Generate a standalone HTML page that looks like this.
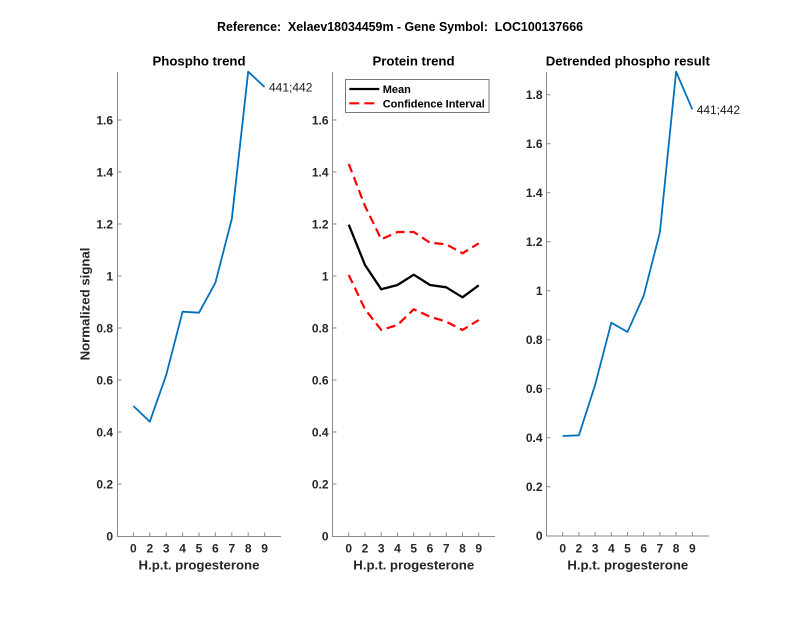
<!DOCTYPE html>
<html>
<head>
<meta charset="utf-8">
<style>
html,body{margin:0;padding:0;background:#fff;}
svg{display:block;}
text{font-family:"Liberation Sans",Arial,sans-serif;}
.t{font-weight:bold;fill:#262626;font-size:12px;}
.ti{font-weight:bold;fill:#000;font-size:13.2px;text-anchor:middle;}
.lab{font-weight:bold;fill:#262626;font-size:13.2px;text-anchor:middle;}
.ax{stroke:#8a8a8a;stroke-width:1;fill:none;}
</style>
</head>
<body>
<svg width="800" height="618" viewBox="0 0 800 618" xmlns="http://www.w3.org/2000/svg">
<rect width="800" height="618" fill="#fff"/>
<text x="400" y="31" class="ti" xml:space="preserve" style="white-space:pre" textLength="366" lengthAdjust="spacingAndGlyphs">Reference:  Xelaev18034459m - Gene Symbol:  LOC100137666</text>

<!-- LEFT PLOT -->
<g>
<text x="199" y="65.5" class="ti">Phospho trend</text>
<path class="ax" d="M117.5,72 V536.5 H281"/>
<g class="ax">
<path d="M117.5,484H121.5M117.5,432H121.5M117.5,380H121.5M117.5,328H121.5M117.5,276H121.5M117.5,224H121.5M117.5,172H121.5M117.5,120H121.5"/>
<path d="M133.4,536.5V532.5M149.8,536.5V532.5M166.2,536.5V532.5M182.6,536.5V532.5M199,536.5V532.5M215.4,536.5V532.5M231.8,536.5V532.5M248.2,536.5V532.5M264.6,536.5V532.5"/>
</g>
<g class="t" text-anchor="end">
<text x="113" y="540.3">0</text>
<text x="113" y="488.3">0.2</text>
<text x="113" y="436.3">0.4</text>
<text x="113" y="384.3">0.6</text>
<text x="113" y="332.3">0.8</text>
<text x="113" y="280.3">1</text>
<text x="113" y="228.3">1.2</text>
<text x="113" y="176.3">1.4</text>
<text x="113" y="124.3">1.6</text>
</g>
<g class="t" text-anchor="middle">
<text x="133.4" y="552.7">0</text><text x="149.8" y="552.7">2</text><text x="166.2" y="552.7">3</text>
<text x="182.6" y="552.7">4</text><text x="199" y="552.7">5</text><text x="215.4" y="552.7">6</text>
<text x="231.8" y="552.7">7</text><text x="248.2" y="552.7">8</text><text x="264.6" y="552.7">9</text>
</g>
<text x="199" y="569.5" class="lab">H.p.t. progesterone</text>
<text transform="translate(89.5,304) rotate(-90)" class="lab">Normalized signal</text>
<polyline fill="none" stroke="#0072BD" stroke-width="1.8" stroke-linejoin="round"
 points="133.4,406 149.8,421.7 166.2,375 182.6,311.7 199,312.7 215.4,282.7 231.8,219 248.2,71.7 264.6,87"/>
<text x="269" y="91.7" font-size="12" fill="#1a1a1a">441;442</text>
</g>

<!-- MIDDLE PLOT -->
<g>
<text x="413.5" y="65.5" class="ti">Protein trend</text>
<path class="ax" d="M332.5,72 V536.5 H495"/>
<g class="ax">
<path d="M332.5,484H336.5M332.5,432H336.5M332.5,380H336.5M332.5,328H336.5M332.5,276H336.5M332.5,224H336.5M332.5,172H336.5M332.5,120H336.5"/>
<path d="M348.75,536.5V532.5M365,536.5V532.5M381.25,536.5V532.5M397.5,536.5V532.5M413.75,536.5V532.5M430,536.5V532.5M446.25,536.5V532.5M462.5,536.5V532.5M478.75,536.5V532.5"/>
</g>
<g class="t" text-anchor="end">
<text x="328.5" y="540.3">0</text>
<text x="328.5" y="488.3">0.2</text>
<text x="328.5" y="436.3">0.4</text>
<text x="328.5" y="384.3">0.6</text>
<text x="328.5" y="332.3">0.8</text>
<text x="328.5" y="280.3">1</text>
<text x="328.5" y="228.3">1.2</text>
<text x="328.5" y="176.3">1.4</text>
<text x="328.5" y="124.3">1.6</text>
</g>
<g class="t" text-anchor="middle">
<text x="348.75" y="552.7">0</text><text x="365" y="552.7">2</text><text x="381.25" y="552.7">3</text>
<text x="397.5" y="552.7">4</text><text x="413.75" y="552.7">5</text><text x="430" y="552.7">6</text>
<text x="446.25" y="552.7">7</text><text x="462.5" y="552.7">8</text><text x="478.75" y="552.7">9</text>
</g>
<text x="413.75" y="569.5" class="lab">H.p.t. progesterone</text>
<polyline fill="none" stroke="#FF0000" stroke-width="2.2" stroke-dasharray="9,5" stroke-linejoin="round"
 points="348.75,164 365,206 381.25,239.3 397.5,232 413.75,232 430,242.7 446.25,244.3 462.5,253.3 478.75,243.3"/>
<polyline fill="none" stroke="#FF0000" stroke-width="2.2" stroke-dasharray="9,5" stroke-linejoin="round"
 points="348.75,275 365,309.3 381.25,330 397.5,325 413.75,309.3 430,316.7 446.25,321.7 462.5,330 478.75,320"/>
<polyline fill="none" stroke="#000" stroke-width="2.3" stroke-linejoin="round"
 points="348.75,224.7 365,265 381.25,289.3 397.5,285 413.75,274.7 430,285 446.25,287.3 462.5,297.3 478.75,285.3"/>
<rect x="345.5" y="79.5" width="143.5" height="33" fill="#fff" stroke="#7a7a7a" stroke-width="1"/>
<line x1="349.3" y1="89" x2="379.3" y2="89" stroke="#000" stroke-width="2.3"/>
<line x1="349.3" y1="103.3" x2="379.3" y2="103.3" stroke="#FF0000" stroke-width="2.2" stroke-dasharray="10,5"/>
<text x="382.7" y="93" font-size="11" font-weight="bold" fill="#000">Mean</text>
<text x="382.7" y="107.3" font-size="11" font-weight="bold" fill="#000">Confidence Interval</text>
</g>

<!-- RIGHT PLOT -->
<g>
<text x="627.8" y="65.5" class="ti">Detrended phospho result</text>
<path class="ax" d="M546.5,72 V536 H709"/>
<g class="ax">
<path d="M546.5,486.7H550.5M546.5,437.7H550.5M546.5,388.7H550.5M546.5,339.7H550.5M546.5,290.7H550.5M546.5,241.7H550.5M546.5,192.7H550.5M546.5,143.7H550.5M546.5,94.7H550.5"/>
<path d="M562.7,536V532M578.9,536V532M595.1,536V532M611.3,536V532M627.5,536V532M643.7,536V532M659.9,536V532M676.1,536V532M692.3,536V532"/>
</g>
<g class="t" text-anchor="end">
<text x="542.5" y="540">0</text>
<text x="542.5" y="491">0.2</text>
<text x="542.5" y="442">0.4</text>
<text x="542.5" y="393">0.6</text>
<text x="542.5" y="344">0.8</text>
<text x="542.5" y="295">1</text>
<text x="542.5" y="246">1.2</text>
<text x="542.5" y="197">1.4</text>
<text x="542.5" y="148">1.6</text>
<text x="542.5" y="99">1.8</text>
</g>
<g class="t" text-anchor="middle">
<text x="562.7" y="552.7">0</text><text x="578.9" y="552.7">2</text><text x="595.1" y="552.7">3</text>
<text x="611.3" y="552.7">4</text><text x="627.5" y="552.7">5</text><text x="643.7" y="552.7">6</text>
<text x="659.9" y="552.7">7</text><text x="676.1" y="552.7">8</text><text x="692.3" y="552.7">9</text>
</g>
<text x="627.8" y="569.5" class="lab">H.p.t. progesterone</text>
<polyline fill="none" stroke="#0072BD" stroke-width="1.8" stroke-linejoin="round"
 points="562.7,436 578.9,435.3 595.1,385 611.3,322.7 627.5,332 643.7,295.7 659.9,232.3 676.1,71.7 692.3,109.3"/>
<text x="696.7" y="114" font-size="12" fill="#1a1a1a">441;442</text>
</g>
</svg>
</body>
</html>
